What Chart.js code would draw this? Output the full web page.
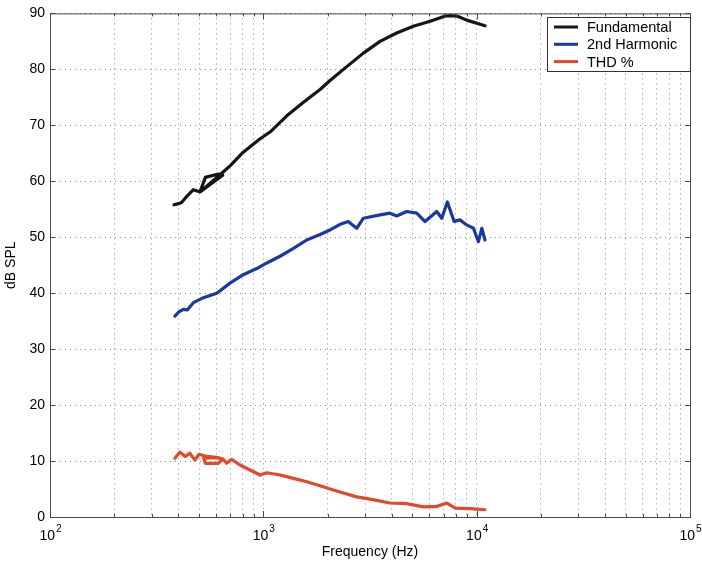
<!DOCTYPE html>
<html>
<head>
<meta charset="utf-8">
<script src="https://cdn.jsdelivr.net/npm/chart.js@4"></script>
<style>html,body{margin:0;padding:0;background:#fff}</style>
</head>
<body>
<canvas id="stats" width="702" height="564"></canvas>
<script>
// values (frequency in Hz, level in dB SPL / %)
var fundFreq = [381, 400, 414, 440, 470, 505, 535, 615, 645, 505, 650, 700, 805, 966, 1075, 1288, 1542, 1845, 2054, 2373, 2944, 3524, 4217, 5047, 6050, 7070, 7500, 8100, 8350, 8980, 10940];
var fundValues = [55.8, 56.0, 56.2, 57.4, 58.5, 58.1, 60.7, 61.3, 61.1, 58.1, 61.7, 62.8, 65.2, 67.6, 68.8, 71.7, 74.1, 76.4, 78.0, 80.0, 82.9, 85.0, 86.5, 87.7, 88.6, 89.5, 89.6, 89.5, 89.3, 88.8, 87.8];

var harmFreq = [385, 400, 422, 440, 470, 524, 605, 698, 805, 931, 1038, 1198, 1384, 1597, 1845, 2054, 2291, 2500, 2740, 2944, 3524, 3926, 4217, 4697, 5237, 5727, 6500, 6860, 7290, 7840, 8350, 8980, 9660, 10190, 10570, 10940];
var harmValues = [35.9, 36.6, 37.1, 37.0, 38.3, 39.2, 40.0, 41.8, 43.3, 44.4, 45.4, 46.6, 48.0, 49.5, 50.5, 51.3, 52.3, 52.8, 51.6, 53.4, 54.0, 54.3, 53.8, 54.6, 54.3, 52.8, 54.6, 53.4, 56.3, 52.8, 53.1, 52.2, 51.6, 49.2, 51.6, 49.5];

var thdFreq = [385, 407, 430, 452, 478, 500, 533, 610, 645, 615, 535, 525, 610, 645, 673, 710, 778, 866, 966, 1038, 1198, 1384, 1597, 1845, 2054, 2373, 2740, 3162, 3926, 4697, 5627, 6500, 7250, 7940, 9300, 10940];
var thdValues = [10.5, 11.6, 10.8, 11.4, 10.2, 11.2, 10.9, 10.6, 10.3, 9.6, 9.6, 10.5, 10.6, 10.4, 9.6, 10.3, 9.3, 8.4, 7.5, 7.9, 7.5, 6.9, 6.3, 5.6, 5.0, 4.3, 3.6, 3.2, 2.5, 2.4, 1.8, 1.9, 2.5, 1.6, 1.5, 1.3];

var yTicks = [0, 10, 20, 30, 40, 50, 60, 70, 80, 90];
var xDecades = [100, 1000, 10000, 100000];

var FONT = "'Liberation Sans', Arial, sans-serif";

function pairs(xs, ys) {
  return xs.map(function(x, i) { return {x: x, y: ys[i]}; });
}

function line(ctx, x1, y1, x2, y2) {
  ctx.beginPath();
  ctx.moveTo(x1, y1);
  ctx.lineTo(x2, y2);
  ctx.stroke();
}

// axes box, inward ticks, 10^n labels and the boxed legend
var framePlugin = {
  id: 'frame',
  afterDraw: function(chart) {
    var ctx = chart.ctx, a = chart.chartArea;
    var x = chart.scales.x, y = chart.scales.y;
    ctx.save();
    ctx.strokeStyle = '#4a4a4a';
    ctx.lineWidth = 1;
    ctx.strokeRect(a.left + 0.5, a.top + 0.5, a.right - a.left, a.bottom - a.top);

    yTicks.forEach(function(v) {
      var py = Math.round(y.getPixelForValue(v)) + 0.5;
      line(ctx, a.left, py, a.left + 5, py);
      line(ctx, a.right - 5, py, a.right, py);
    });
    x.ticks.forEach(function(t) {
      var px = Math.round(x.getPixelForValue(t.value)) + 0.5;
      var major = xDecades.indexOf(t.value) >= 0;
      var len = major ? 6 : 3;
      line(ctx, px, a.bottom, px, a.bottom - len);
      line(ctx, px, a.top, px, a.top + len);
    });

    ctx.fillStyle = '#000';
    ctx.textBaseline = 'alphabetic';
    xDecades.forEach(function(v) {
      var px = x.getPixelForValue(v);
      var exp = String(Math.round(Math.log10(v)));
      ctx.font = '14px ' + FONT;
      var w1 = ctx.measureText('10').width;
      ctx.font = '10px ' + FONT;
      var w2 = ctx.measureText(exp).width;
      var start = px - (w1 + w2) / 2;
      ctx.font = '14px ' + FONT;
      ctx.textAlign = 'left';
      ctx.fillText('10', start, a.bottom + 23);
      ctx.font = '10px ' + FONT;
      ctx.fillText(exp, start + w1 + 1, a.bottom + 15);
    });

    // legend
    var bx = 547, by = 17, bw = a.right - bx, bh = 54;
    ctx.fillStyle = '#fff';
    ctx.fillRect(bx, by, bw, bh);
    ctx.strokeStyle = '#333';
    ctx.strokeRect(bx + 0.5, by + 0.5, bw, bh);
    ctx.font = '14.5px ' + FONT;
    ctx.textBaseline = 'middle';
    chart.data.datasets.forEach(function(ds, i) {
      var ly = by + 10 + i * 17.3;
      ctx.strokeStyle = ds.borderColor;
      ctx.lineWidth = 3;
      line(ctx, bx + 7, ly, bx + 31, ly);
      ctx.fillStyle = '#000';
      ctx.fillText(ds.label, bx + 40, ly + 1);
    });
    ctx.restore();
  }
};

var config = {
  type: 'scatter',
  data: {
    datasets: [{
      label: 'Fundamental',
      data: pairs(fundFreq, fundValues),
      borderColor: '#161616'
    }, {
      label: '2nd Harmonic',
      data: pairs(harmFreq, harmValues),
      borderColor: '#1d37a0'
    }, {
      label: 'THD %',
      data: pairs(thdFreq, thdValues),
      borderColor: '#e2482b'
    }]
  },
  options: {
    responsive: false,
    animation: false,
    showLine: true,
    layout: {padding: {top: 10, right: 12, left: 0, bottom: 0}},
    elements: {
      point: {radius: 0, hoverRadius: 0},
      line: {borderWidth: 3.2, tension: 0, fill: false, borderJoinStyle: 'round', borderCapStyle: 'round'}
    },
    plugins: {
      legend: {display: false},
      tooltip: {enabled: false}
    },
    scales: {
      x: {
        type: 'logarithmic',
        min: 100,
        max: 100000,
        afterBuildTicks: function(scale) {
          var t = [];
          for (var d = 100; d <= 100000; d *= 10) {
            for (var m = 1; m <= 9; m++) {
              if (d * m <= 100000) t.push({value: d * m});
            }
          }
          scale.ticks = t;
        },
        afterFit: function(scale) { scale.height = 47; },
        ticks: {display: false},
        grid: {color: '#8a8a8a', drawTicks: false, lineWidth: 1},
        border: {display: false, dash: [1, 4]},
        title: {display: true, text: 'Frequency (Hz)', color: '#000', font: {family: FONT, size: 14}, padding: {top: 0, bottom: 3}}
      },
      y: {
        min: 0,
        max: 90,
        afterBuildTicks: function(scale) {
          scale.ticks = yTicks.map(function(v) { return {value: v}; });
        },
        afterFit: function(scale) { scale.width = 50; },
        ticks: {color: '#000', padding: 5, font: {family: FONT, size: 14}},
        grid: {color: '#8a8a8a', drawTicks: false, lineWidth: 1},
        border: {display: false, dash: [1, 4]},
        title: {display: true, text: 'dB SPL', color: '#000', font: {family: FONT, size: 14}, padding: {top: 3, bottom: 0}}
      }
    }
  },
  plugins: [framePlugin]
};

window.onload = function() {
  window.myChart = new Chart(document.getElementById('stats'), config);
};
</script>
</body>
</html>
